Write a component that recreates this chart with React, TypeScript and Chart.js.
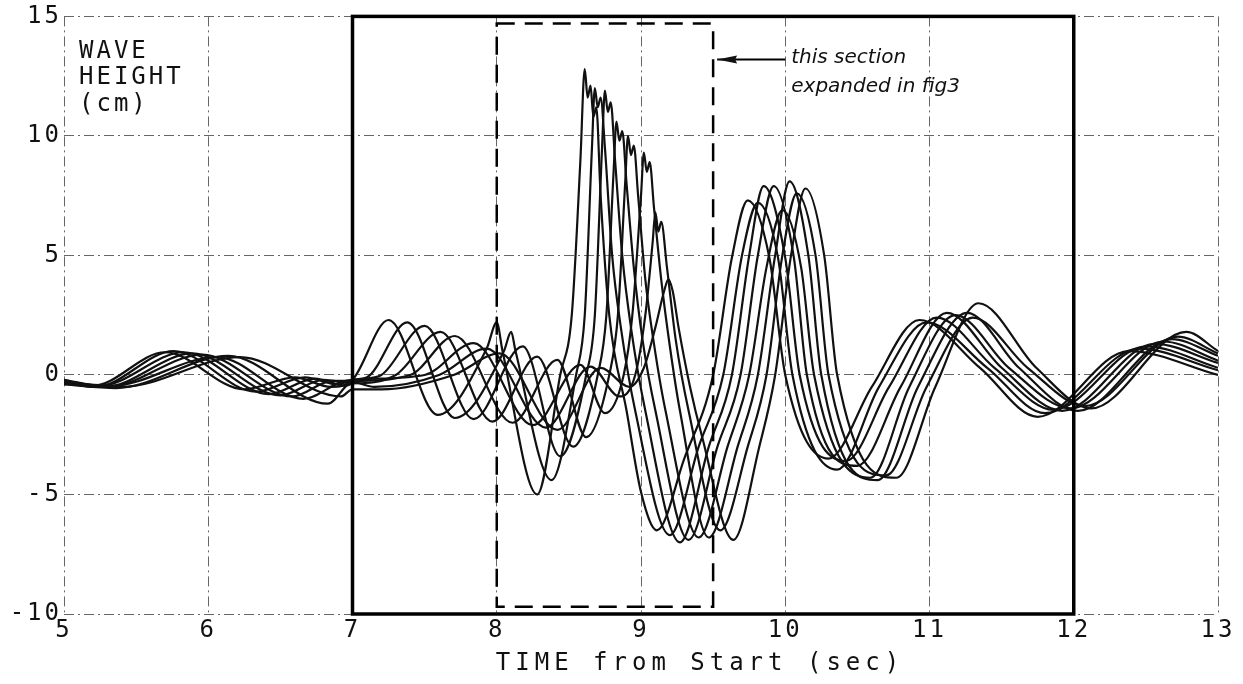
import React, { useEffect, useRef } from "react";
import { Chart, registerables } from "chart.js";

Chart.register(...registerables);

// ---- axes / labels ----
const xTicks = [5, 6, 7, 8, 9, 10, 11, 12, 13];
const yTicks = [-10, -5, 0, 5, 10, 15];
const yLabelLines = ["WAVE", "HEIGHT", "(cm)"];
const xTitle = "TIME from Start (sec)";
const noteLines = ["this section", "expanded in fig3"];
const analysisWindow = [7, 12];
const sectionBox = [8.0, 9.5, -9.7, 14.7]; // x0, x1, y0, y1

// ---- wave gauge records: [time (s), height (cm)] ----
const trace1: number[][] = [
  [5.0, -0.2], [5.2, -0.45], [5.7, 0.95], [6.25, -0.6], [6.6, -0.1], [6.85, -0.5], [7.0, -0.2],
  [7.25, 2.3], [7.59, -1.67], [7.93, 1.1], [8.0, 2.2], [8.04, 1.0], [8.28, -5.0], [8.44, 0.0],
  [8.52, 2.5], [8.58, 9.0], [8.61, 12.8], [8.63, 11.6], [8.65, 12.1], [8.67, 10.8], [8.69, 11.2],
  [8.72, 7.5], [8.78, 2.5], [8.9, -1.5], [9.0, -4.9], [9.11, -6.5], [9.3, -3.5], [9.5, 0.0],
  [9.63, 4.9], [9.74, 7.3], [9.89, 4.9], [10.0, 0.0], [10.3, -3.5], [10.6, -0.5], [10.93, 2.3],
  [11.35, 0.3], [11.75, -1.75], [12.38, 1.0], [13.0, 0.0],
];
const trace2: number[][] = [
  [5.0, -0.3], [5.22, -0.5], [5.76, 1.0], [6.33, -0.7], [6.67, -0.1], [6.9, -0.4], [7.0, -0.2],
  [7.1, -0.1], [7.38, 2.2], [7.71, -1.8], [8.05, 1.0], [8.1, 1.8], [8.13, 1.0], [8.38, -4.4],
  [8.55, 0.0], [8.61, 2.5], [8.66, 9.5], [8.68, 12.0], [8.7, 11.2], [8.72, 11.6], [8.75, 9.5],
  [8.8, 5.0], [8.86, 2.0], [8.96, -1.5], [9.2, -6.7], [9.4, -3.0], [9.57, 0.0], [9.7, 5.0],
  [9.81, 7.2], [9.95, 4.9], [10.05, 0.0], [10.36, -3.96], [10.65, -0.5], [10.98, 2.2],
  [11.4, 0.3], [11.8, -1.6], [12.45, 1.1], [13.0, 0.2],
];
const trace3: number[][] = [
  [5.0, -0.2], [5.25, -0.45], [5.83, 0.95], [6.42, -0.8], [6.74, -0.15], [6.95, -0.45], [7.05, -0.2],
  [7.2, 0.0], [7.5, 2.05], [7.84, -1.85], [8.18, 1.2], [8.44, -3.4], [8.62, 0.0], [8.68, 2.5],
  [8.73, 9.5], [8.75, 11.9], [8.77, 11.0], [8.79, 11.4], [8.82, 9.0], [8.87, 5.0], [8.93, 2.0],
  [9.03, -1.5], [9.27, -7.0], [9.47, -3.0], [9.63, 0.0], [9.75, 5.0], [9.85, 7.9], [10.0, 4.9],
  [10.1, 0.0], [10.42, -3.6], [10.72, -0.5], [11.05, 2.4], [11.45, 0.3], [11.86, -1.46],
  [12.5, 1.2], [13.0, 0.3],
];
const trace4: number[][] = [
  [5.0, -0.35], [5.28, -0.5], [5.89, 0.9], [6.5, -0.85], [6.8, -0.2], [7.0, -0.35], [7.3, 0.0],
  [7.61, 1.8], [7.97, -1.95], [8.28, 0.77], [8.53, -3.0], [8.7, 0.0], [8.76, 2.5], [8.81, 8.5],
  [8.83, 10.6], [8.85, 9.8], [8.87, 10.2], [8.9, 8.0], [8.95, 4.5], [9.01, 1.5], [9.1, -1.5],
  [9.33, -6.9], [9.53, -3.0], [9.69, 0.0], [9.81, 5.0], [9.92, 7.9], [10.06, 4.9], [10.15, 0.0],
  [10.5, -3.8], [10.8, -0.5], [11.12, 2.6], [11.5, 0.3], [11.92, -1.5], [12.56, 1.3], [13.0, 0.5],
];
const trace5: number[][] = [
  [5.0, -0.25], [5.3, -0.5], [5.96, 0.85], [6.58, -0.9], [6.86, -0.25], [7.0, -0.25], [7.4, 0.0],
  [7.71, 1.63], [8.11, -2.0], [8.42, 0.63], [8.62, -2.6], [8.78, 0.0], [8.84, 2.5], [8.89, 8.0],
  [8.91, 10.0], [8.93, 9.2], [8.95, 9.6], [8.98, 7.5], [9.03, 4.0], [9.09, 1.3], [9.17, -1.5],
  [9.4, -6.8], [9.6, -3.0], [9.75, 0.0], [9.87, 4.5], [9.98, 6.9], [10.11, 4.5], [10.2, 0.0],
  [10.59, -4.3], [10.86, -0.5], [11.18, 2.5], [11.55, 0.3], [11.98, -1.4], [12.62, 1.4], [13.0, 0.6],
];
const trace6: number[][] = [
  [5.0, -0.3], [5.33, -0.45], [6.06, 0.75], [6.66, -1.0], [6.92, -0.3], [7.0, -0.2], [7.5, 0.0],
  [7.84, 1.33], [8.25, -2.1], [8.58, 0.42], [8.75, -1.6], [8.88, 0.0], [8.94, 2.5], [9.0, 7.5],
  [9.02, 9.3], [9.04, 8.5], [9.06, 8.9], [9.09, 7.0], [9.14, 4.0], [9.2, 1.2], [9.27, -1.5],
  [9.47, -6.8], [9.67, -3.0], [9.81, 0.0], [9.93, 5.0], [10.03, 8.1], [10.16, 5.0], [10.25, 0.0],
  [10.64, -4.4], [10.92, -0.5], [11.26, 2.6], [11.62, 0.3], [12.03, -1.5], [12.68, 1.5], [13.0, 0.8],
];
const trace7: number[][] = [
  [5.0, -0.4], [5.36, -0.55], [6.14, 0.8], [6.83, -1.2], [7.0, -0.3], [7.15, -0.5], [7.6, 0.0],
  [7.93, 1.1], [8.34, -2.2], [8.65, 0.35], [8.85, -0.9], [8.96, 0.0], [9.03, 2.5], [9.08, 5.5],
  [9.1, 6.8], [9.12, 6.0], [9.14, 6.4], [9.18, 4.5], [9.24, 1.5], [9.33, -1.5], [9.55, -6.5],
  [9.74, -3.0], [9.87, 0.0], [9.98, 5.0], [10.08, 7.6], [10.21, 5.0], [10.3, 0.0], [10.7, -4.2],
  [10.98, -0.5], [11.3, 2.4], [11.68, 0.3], [12.08, -1.3], [12.72, 1.6], [13.0, 0.9],
];
const trace8: number[][] = [
  [5.0, -0.3], [5.4, -0.5], [6.22, 0.75], [6.92, -0.9], [7.0, -0.6], [7.2, -0.6], [7.7, 0.0],
  [8.02, 0.9], [8.42, -2.3], [8.72, 0.3], [8.92, -0.5], [9.02, 0.3], [9.1, 2.0], [9.16, 3.5],
  [9.19, 4.0], [9.22, 3.5], [9.26, 2.0], [9.34, -0.5], [9.42, -2.5], [9.64, -6.9], [9.82, -3.0],
  [9.93, 0.0], [10.04, 5.0], [10.14, 7.8], [10.27, 5.0], [10.36, 0.0], [10.77, -4.3],
  [11.04, -0.5], [11.34, 3.0], [11.74, 0.3], [12.12, -1.4], [12.78, 1.8], [13.0, 1.0],
];
const traces = [trace1, trace2, trace3, trace4, trace5, trace6, trace7, trace8];

const PLOT_FONT = '"DejaVu Sans Mono", monospace';

const overlayPlugin = {
  id: "overlayPlugin",
  beforeInit(chart: any) {
    chart.ctx.letterSpacing = "3px";
  },
  beforeDraw(chart: any) {
    chart.ctx.letterSpacing = "3px";
  },
  afterDatasetsDraw(chart: any) {
    const { ctx, scales } = chart;
    const x = scales.x;
    const y = scales.y;
    ctx.save();
    // thick analysis window frame
    const xa = x.getPixelForValue(analysisWindow[0]);
    const xb = x.getPixelForValue(analysisWindow[1]);
    const yt = y.getPixelForValue(15);
    const yb = y.getPixelForValue(-10);
    ctx.setLineDash([]);
    ctx.strokeStyle = "#000";
    ctx.lineWidth = 3.5;
    ctx.strokeRect(xa, yt, xb - xa, yb - yt);

    // dashed section box
    const bx0 = x.getPixelForValue(sectionBox[0]);
    const bx1 = x.getPixelForValue(sectionBox[1]);
    const by0 = y.getPixelForValue(sectionBox[2]);
    const by1 = y.getPixelForValue(sectionBox[3]);
    ctx.lineWidth = 2.5;
    ctx.setLineDash([18, 10]);
    ctx.strokeRect(bx0, by1, bx1 - bx0, by0 - by1);
    ctx.setLineDash([]);

    // plotter text
    ctx.fillStyle = "#111";
    ctx.font = `24px ${PLOT_FONT}`;
    ctx.letterSpacing = "3px";
    ctx.textAlign = "left";
    ctx.textBaseline = "alphabetic";
    const lx = x.getPixelForValue(5) + 15;
    const ly0 = y.getPixelForValue(15);
    ctx.fillText(yLabelLines[0], lx, ly0 + 42);
    ctx.fillText(yLabelLines[1], lx, ly0 + 68);
    ctx.fillText(yLabelLines[2], lx, ly0 + 95);

    // x axis title
    ctx.letterSpacing = "5px";
    ctx.textAlign = "center";
    ctx.textBaseline = "middle";
    ctx.fillText(xTitle, 700, 664);

    // handwritten note + arrow
    const ax1 = x.getPixelForValue(10);
    const ay = y.getPixelForValue(13.2);
    ctx.lineWidth = 2;
    ctx.beginPath();
    ctx.moveTo(ax1, ay);
    ctx.lineTo(bx1 + 4, ay);
    ctx.stroke();
    ctx.beginPath();
    ctx.moveTo(bx1 + 4, ay);
    ctx.lineTo(bx1 + 24, ay - 4);
    ctx.lineTo(bx1 + 22, ay);
    ctx.lineTo(bx1 + 24, ay + 4);
    ctx.closePath();
    ctx.fill();
    ctx.letterSpacing = "0px";
    ctx.font = `italic 20px "DejaVu Sans", sans-serif`;
    ctx.textAlign = "left";
    ctx.textBaseline = "alphabetic";
    ctx.fillText(noteLines[0], ax1 + 6, ay + 4);
    ctx.fillText(noteLines[1], ax1 + 6, ay + 33);
    ctx.restore();
  },
};

export default function App() {
  const canvasRef = useRef<HTMLCanvasElement | null>(null);

  useEffect(() => {
    const canvas = canvasRef.current;
    if (!canvas) return;
    const chart = new Chart(canvas, {
      type: "line",
      data: {
        datasets: traces.map((tr, i) => ({
          label: `gauge ${i + 1}`,
          data: tr.map((p) => ({ x: p[0], y: p[1] })),
          borderColor: "#111",
          borderWidth: 2.2,
          pointRadius: 0,
          fill: false,
          cubicInterpolationMode: "monotone" as const,
        })),
      },
      options: {
        animation: false,
        responsive: false,
        devicePixelRatio: 1,
        layout: { padding: { top: 15, right: 25, left: 0, bottom: 0 } },
        plugins: { legend: { display: false }, tooltip: { enabled: false } },
        scales: {
          x: {
            type: "linear",
            min: 5,
            max: 13,
            afterBuildTicks: (s: any) => {
              s.ticks = xTicks.map((v) => ({ value: v }));
            },
            afterFit: (s: any) => {
              s.height = 70;
            },
            ticks: {
              font: { family: PLOT_FONT, size: 24 },
              color: "#111",
              padding: 2,
              maxRotation: 0,
              autoSkip: false,
            },
            grid: { color: "#666", lineWidth: 1, drawTicks: false },
            border: { display: false, dash: [10, 4, 2, 4] },
          },
          y: {
            type: "linear",
            min: -10,
            max: 15,
            afterBuildTicks: (s: any) => {
              s.ticks = yTicks.map((v) => ({ value: v }));
            },
            afterFit: (s: any) => {
              s.width = 64;
            },
            ticks: {
              font: { family: PLOT_FONT, size: 24 },
              color: "#111",
              padding: 2,
              autoSkip: false,
            },
            grid: { color: "#666", lineWidth: 1, drawTicks: false },
            border: { display: false, dash: [10, 4, 2, 4] },
          },
        },
      },
      plugins: [overlayPlugin],
    });
    return () => chart.destroy();
  }, []);

  return (
    <div style={{ position: "fixed", left: 0, top: 0, width: 1243, height: 684, background: "#fff" }}>
      <canvas ref={canvasRef} width={1243} height={684} style={{ width: 1243, height: 684, display: "block" }} />
    </div>
  );
}
